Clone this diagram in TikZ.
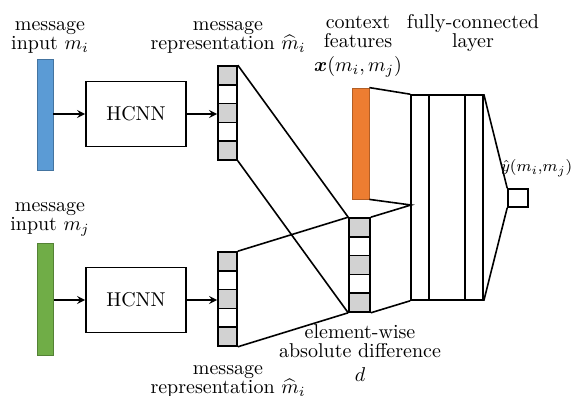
\documentclass[tikz,border=0pt]{standalone}
\usepackage{amsmath}
\definecolor{inblue}{HTML}{5B9BD5}
\definecolor{ingreen}{HTML}{70AD47}
\definecolor{ctxorange}{HTML}{ED7D31}

\begin{document}
\begin{tikzpicture}[
    thick, % line style
    > = stealth, % arrow head style
    x=0.5pt, y=-0.5pt,
    font=\fontsize{10}{9.5}\selectfont,
    bar/.style ={draw, thin, minimum width=8pt, minimum height=55.5pt, inner sep=0pt},
    box/.style ={draw, minimum width=50pt, minimum height=32.5pt, inner sep=0pt},
    cell/.style ={draw, minimum width=9.5pt, minimum height=9.4pt, inner sep=0pt},
    fcbox/.style ={draw, minimum height=102.5pt, inner sep=0pt},
    lbl/.style ={align=center, inner sep=0pt},
]
\useasboundingbox (0,0) rectangle (575,396);

% message i
\node[bar, fill=inblue, draw=inblue!75!black] (inI) at (45,114.5) {};
\node[box] (hI) at (136,114) {HCNN};
\foreach \k/\c in {1/gray!35,2/white,3/gray!35,4/white,5/gray!35}
    \node[cell, fill=\c] (ri\k) at (227.5,56.6+18.8*\k) {};

% message j
\node[bar, fill=ingreen, draw=ingreen!75!black, minimum height=56pt] (inJ) at (45.5,299) {};
\node[box] (hJ) at (136,300) {HCNN};
\foreach \k/\c in {1/gray!35,2/white,3/gray!35,4/white,5/gray!35}
    \node[cell, fill=\c] (rj\k) at (227.5,242.6+18.8*\k) {};

% difference and context
\foreach \k/\c in {1/gray!35,2/white,3/gray!35,4/white,5/gray!35}
    \node[cell, fill=\c, minimum width=10.5pt] (d\k) at (359.5,208.6+18.8*\k) {};
\node[bar, fill=ctxorange, draw=ctxorange!75!black, minimum width=8.5pt] (ctx) at (360.5,143.5) {};

% fully-connected layer and output
\node[fcbox, minimum width=9pt] (fc1) at (420,197.5) {};
\node[fcbox, minimum width=18pt] (fc2) at (447,197.5) {};
\node[fcbox, minimum width=9pt] (fc3) at (474,197.5) {};
\coordinate (fcin) at (411,205);
\node[draw, minimum width=10pt, minimum height=9pt, inner sep=0pt] (out) at (518,198) {};

\draw[->] (inI.east |- hI) -- (hI.west);
\draw[->] (hI.east) -- (hI.east -| ri3.west);
\draw[->] (inJ.east |- hJ) -- (hJ.west);
\draw[->] (hJ.east) -- (hJ.east -| rj3.west);

\draw (ri1.north east) -- (d1.north west);
\draw (ri5.south east) -- (d5.south west);
\draw (rj1.north east) -- (d1.north west);
\draw (rj5.south east) -- (d5.south west);
\draw (ctx.north east) -- (fc1.north west);
\draw (ctx.south east) -- (fcin) -- (d1.north east);
\draw (d5.south east) -- (fc1.south west);
\draw (fc3.north east) -- (out.north west);
\draw (fc3.south east) -- (out.south west);

% labels
\node[lbl] (tI) at (50,37) {message\\input $m_i$};
\node[lbl] (tRI) at (228,37) {message\\representation $\widehat{m}_i$};
\node[lbl] (tJ) at (50,219) {message\\input $m_j$};
\node[lbl] (tRJ) at (228,381) {message\\representation $\widehat{m}_i$};
\node[lbl] (tCtx) at (358,46.5) {context\\features\\[2.5pt]$\boldsymbol{x}(m_i,m_j)$};
\node[lbl] (tFc) at (473,33) {fully-connected\\layer};
\node[lbl] (tD) at (360,353) {element-wise\\absolute difference\\[2.5pt]$d$};
\node[lbl, anchor=east, font=\fontsize{8.5}{8.5}\selectfont] (tOut) at (573,168) {$\hat{y}(m_i{,}m_j)$};
\end{tikzpicture}
\end{document}
